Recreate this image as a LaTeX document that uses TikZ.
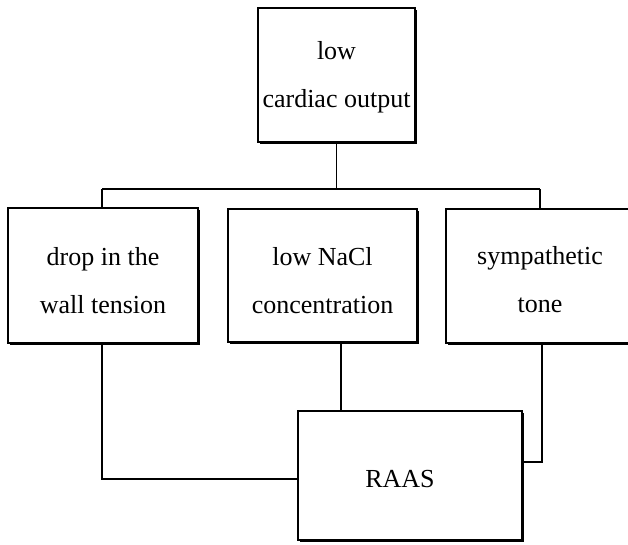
\documentclass[tikz,border=0pt]{standalone}
\usepackage{fontspec}
\setmainfont{Liberation Serif}
\usetikzlibrary{shadows}
\begin{document}
\begin{tikzpicture}[x=1pt,y=-1pt,
  box/.style={draw=black, line width=1.6pt, fill=white, inner sep=0pt,
    drop shadow={shadow xshift=2.2pt, shadow yshift=-2.2pt, fill=black, opacity=1}},
  boxtext/.style={align=center, font=\fontsize{26}{48}\selectfont, inner sep=0pt},
  link/.style={draw=black, line width=1.5pt}]
\useasboundingbox (0,0) rectangle (628,544);
\clip (0,0) rectangle (628,544);
\fill[white] (0,0) rectangle (628,544);

% boxes
\node[box, minimum width=157pt, minimum height=134pt] (cardiac) at (336.5,75) {};
\node[box, minimum width=190pt, minimum height=135pt] (wall) at (103,275.5) {};
\node[box, minimum width=189pt, minimum height=133pt] (nacl) at (322.5,275.5) {};
\node[box, minimum width=188pt, minimum height=134pt] (symp) at (540,276) {};
\node[box, minimum width=224pt, minimum height=129pt] (raas) at (410,475.5) {};

% box labels
\node[boxtext] (cardiacT) at ([yshift=-2pt]cardiac.center) {low\\cardiac output};
\node[boxtext] (wallT) at ([yshift=-5pt]wall.center) {drop in the\\wall tension};
\node[boxtext] (naclT) at ([yshift=-5pt]nacl.center) {low NaCl\\concentration};
\node[boxtext] (sympT) at ([yshift=-4pt]symp.center) {sympathetic\\tone};
\node[boxtext] (raasT) at ([xshift=-10pt,yshift=-4pt]raas.center) {RAAS};

% branching bar
\coordinate (barL) at (102,189);
\coordinate (barM) at (336.5,189);
\coordinate (barR) at (540,189);
\coordinate (wallC) at (102,479);
\coordinate (sympC) at (542,462);

\draw[link] (cardiac.south) -- (barM);
\draw[link] (barL) -- (barR);
\draw[link] (barL) -- (barL |- wall.north);
\draw[link] (barR) -- (barR |- symp.north);

% into RAAS
\draw[link] (wall.south -| wallC) -- (wallC) -- (wallC -| raas.west);
\draw[link] (nacl.south -| 341,0) -- (341,0 |- raas.north);
\draw[link] (symp.south -| sympC) -- (sympC) -- (sympC -| raas.east);
\end{tikzpicture}
\end{document}
